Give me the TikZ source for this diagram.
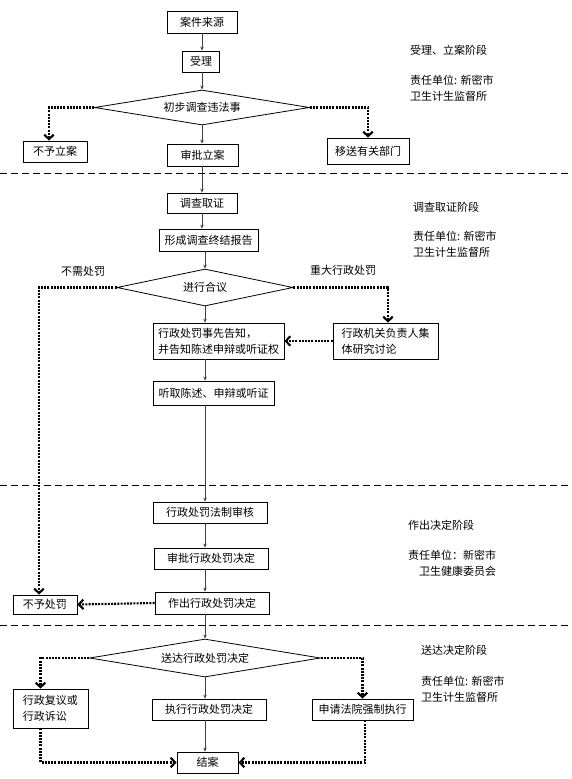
\documentclass[tikz,border=0pt]{standalone}
\usepackage{fontspec}
\setmainfont{Noto Sans CJK SC}
\usepackage{tikz}
\usetikzlibrary{arrows.meta,positioning,calc,shapes.geometric}

\begin{document}
\begin{tikzpicture}[
    x=1pt,y=-1pt,
    font=\fontsize{11}{16}\selectfont,
    block/.style={draw,line width=0.8pt,align=center,inner sep=2pt},
    choice/.style={draw,diamond,line width=0.8pt,shape aspect=6,inner sep=0pt},
    flow/.style={-{Stealth[length=4pt,width=3.5pt]},line width=0.7pt,draw=black!75},
    sidearrow/.style={-{Straight Barb[length=4.5pt,width=9.5pt]},line width=2.1pt,dash pattern=on 2pt off 1.2pt},
    phase/.style={line width=0.9pt,dash pattern=on 7pt off 4pt},
    note/.style={anchor=west,align=left,inner sep=0pt}
]
\useasboundingbox (0,0) rectangle (571,779);
\coordinate (upper) at (202,0);
\coordinate (lower) at (205,0);

\node[block,minimum width=70pt,minimum height=22pt] (source) at (202,22) {案件来源};
\node[block,minimum width=37pt,minimum height=21pt] (accept) at (201,61.5) {受理};
\node[choice,minimum width=215pt,minimum height=35pt] (check) at (202,107.5) {初步调查违法事};
\node[block,minimum width=64pt,minimum height=21pt] (noreg) at (55,151.5) {不予立案};
\node[block,minimum width=71pt,minimum height=22pt] (approve) at (202.5,155) {审批立案};
\node[block,minimum width=82pt,minimum height=26pt] (transfer) at (368,151) {移送有关部门};

\node[block,minimum width=70pt,minimum height=20pt] (investigate) at (202,203) {调查取证};
\node[block,minimum width=99pt,minimum height=22pt] (report) at (208.5,240) {形成调查终结报告};
\node[choice,minimum width=176pt,minimum height=37pt] (discuss) at (205,287.5) {进行合议};
\node (nopenlabel) at (83,271) {不需处罚};
\node (majorlabel) at (343,270) {重大行政处罚};
\node[block,minimum width=131pt,minimum height=36pt,align=left] (notify) at (218.5,341) {行政处罚事先告知，\\并告知陈述申辩或听证权};
\node[block,minimum width=105pt,minimum height=36pt,align=left] (collective) at (385.5,341) {行政机关负责人集\\体研究讨论};
\node[block,minimum width=121pt,minimum height=24pt] (hearing) at (213.5,393) {听取陈述、申辩或听证};

\node[block,minimum width=114pt,minimum height=21pt] (legal) at (210,512.5) {行政处罚法制审核};
\node[block,minimum width=114pt,minimum height=21pt] (approvedec) at (211,558.5) {审批行政处罚决定};
\node[block,minimum width=114pt,minimum height=22pt] (decide) at (212,603) {作出行政处罚决定};
\node[block,minimum width=64pt,minimum height=19pt] (nopen) at (45,604.5) {不予处罚};

\node[choice,minimum width=231pt,minimum height=38pt] (deliver) at (205,658) {送达行政处罚决定};
\node[block,minimum width=75pt,minimum height=39pt,align=left] (review) at (50.5,708.5) {行政复议或\\行政诉讼};
\node[block,minimum width=114pt,minimum height=21pt] (execute) at (209,709.5) {执行行政处罚决定};
\node[block,minimum width=101pt,minimum height=21pt] (court) at (362.5,709.5) {申请法院强制执行};
\node[block,minimum width=61pt,minimum height=21pt] (close) at (207.5,762.5) {结案};

\node[note] (stage1) at (410,50) {受理、立案阶段};
\node[note] (unit1) at (410,88.5) {责任单位: 新密市\\卫生计生监督所};
\node[note] (stage2) at (413,207) {调查取证阶段};
\node[note] (unit2) at (413,244) {责任单位: 新密市\\卫生计生监督所};
\node[note] (stage3) at (408,525) {作出决定阶段};
\node[note,align=right] (unit3) at (408,563.5) {责任单位：新密市\\卫生健康委员会};
\node[note] (stage4) at (421,650) {送达决定阶段};
\node[note] (unit4) at (421,689) {责任单位: 新密市\\卫生计生监督所};

\draw[phase] (0,173) -- (571,173);
\draw[phase] (0,485) -- (571,485);
\draw[phase] (0,625) -- (571,625);

\draw[flow] (upper |- source.south) -- (upper |- accept.north);
\draw[flow] (upper |- accept.south) -- (check.north);
\draw[flow] (check.south) -- (upper |- approve.north);
\draw[flow] (upper |- approve.south) -- (upper |- investigate.north);
\draw[flow] (upper |- investigate.south) -- (upper |- report.north);
\draw[flow] (lower |- report.south) -- (discuss.north);
\draw[flow] (discuss.south) -- (lower |- notify.north);
\draw[flow] (lower |- notify.south) -- (lower |- hearing.north);
\draw[flow] (lower |- hearing.south) -- (lower |- legal.north);
\draw[flow] (lower |- legal.south) -- (lower |- approvedec.north);
\draw[flow] (lower |- approvedec.south) -- (lower |- decide.north);
\draw[flow] (lower |- decide.south) -- (deliver.north);
\draw[flow] (deliver.south) -- (lower |- execute.north);
\draw[flow] (lower |- execute.south) -- (lower |- close.north);

\draw[sidearrow] (check.west) -| ([xshift=-6pt]noreg.north);
\draw[sidearrow] (check.east) -| (transfer.north);
\draw[sidearrow] (discuss.west) -| ([xshift=-6pt]nopen.north);
\draw[sidearrow] (discuss.east) -| ([xshift=2.5pt]collective.north);
\draw[sidearrow] (collective.west) -- (notify.east);
\draw[sidearrow] (decide.west) -- (nopen.east);
\draw[sidearrow] (deliver.west) -| ([xshift=-10pt]review.north);
\draw[sidearrow] (deliver.east) -| (court.north);
\draw[sidearrow] ([xshift=-10pt]review.south) |- (close.west);
\draw[sidearrow] ([xshift=2.5pt]court.south) |- (close.east);
\end{tikzpicture}
\end{document}
